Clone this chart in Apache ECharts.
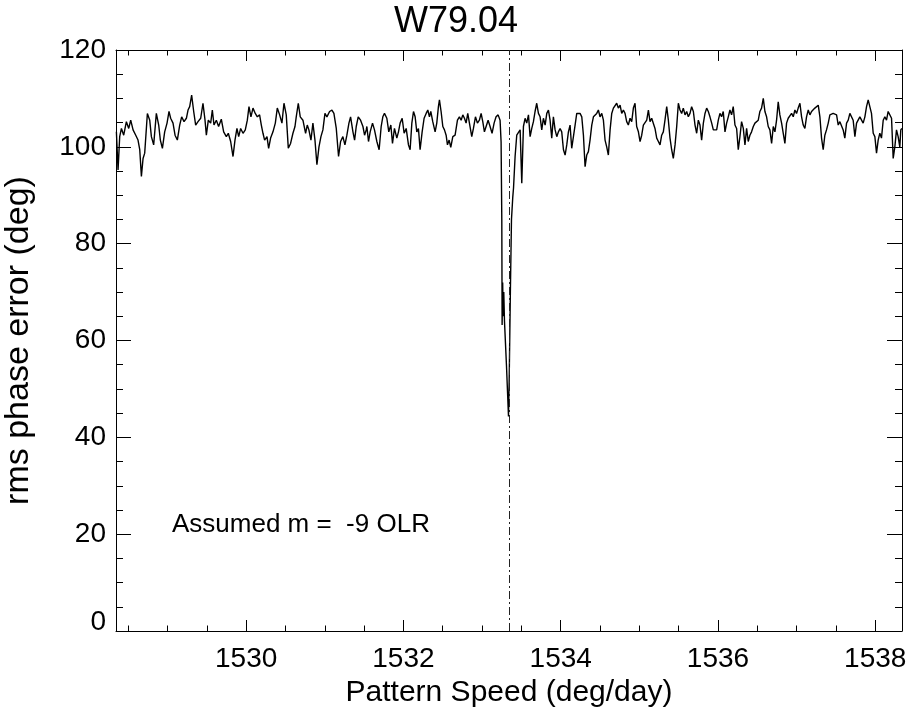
<!DOCTYPE html>
<html>
<head>
<meta charset="utf-8">
<script src="https://cdn.jsdelivr.net/npm/echarts@6/dist/echarts.min.js"></script>
<style>html,body{margin:0;padding:0;background:#fff}#c{width:912px;height:711px}</style>
</head>
<body>
<div id="c"></div>
<script>
var titleText = 'W79.04';
var annotation = 'Assumed m =  -9 OLR';
var xName = 'Pattern Speed (deg/day)';
var yName = 'rms phase error (deg)';
var xMin = 1528.345, xMax = 1538.34;
var xMajorTicks = [1530, 1532, 1534, 1536, 1538];
var xMinorTicks = [1528.5,1529,1529.5,1530,1530.5,1531,1531.5,1532,1532.5,1533,1533.5,1534,1534.5,1535,1535.5,1536,1536.5,1537,1537.5,1538];
var yTicks = [0, 20, 40, 60, 80, 100, 120];
var dipSpeed = 1533.335;

var speed = [
1528.350,1528.371,1528.392,1528.414,1528.443,1528.477,1528.507,1528.532,1528.562,1528.596,
1528.625,1528.647,1528.668,1528.689,1528.710,1528.744,1528.774,1528.795,1528.824,1528.858,
1528.888,1528.909,1528.935,1528.964,1528.994,1529.019,1529.040,1529.070,1529.096,1529.125,
1529.155,1529.180,1529.210,1529.240,1529.261,1529.282,1529.307,1529.333,1529.358,1529.388,
1529.422,1529.451,1529.477,1529.494,1529.519,1529.549,1529.570,1529.591,1529.621,1529.650,
1529.684,1529.714,1529.748,1529.773,1529.803,1529.833,1529.858,1529.883,1529.905,1529.930,
1529.960,1529.989,1530.015,1530.036,1530.061,1530.087,1530.116,1530.142,1530.171,1530.193,
1530.214,1530.235,1530.265,1530.286,1530.311,1530.341,1530.371,1530.396,1530.426,1530.455,
1530.481,1530.510,1530.536,1530.565,1530.595,1530.621,1530.637,1530.663,1530.688,1530.722,
1530.756,1530.777,1530.798,1530.824,1530.849,1530.875,1530.900,1530.926,1530.951,1530.976,
1531.002,1531.027,1531.061,1531.091,1531.116,1531.146,1531.175,1531.201,1531.230,1531.256,
1531.281,1531.307,1531.328,1531.358,1531.379,1531.400,1531.425,1531.455,1531.485,1531.506,
1531.527,
1531.535,1531.556,1531.577,1531.607,1531.632,1531.662,1531.691,1531.717,1531.738,1531.759,
1531.789,1531.814,1531.840,1531.861,1531.886,1531.916,1531.937,1531.958,1531.984,1532.009,
1532.035,1532.064,1532.085,1532.107,1532.128,1532.149,1532.170,1532.191,1532.212,1532.238,
1532.263,1532.289,1532.310,1532.331,1532.348,1532.373,1532.403,1532.424,1532.445,1532.458,
1532.479,1532.501,1532.522,1532.543,1532.560,1532.581,1532.602,1532.628,1532.657,1532.687,
1532.712,1532.734,1532.755,1532.776,1532.797,1532.818,1532.839,1532.869,1532.890,1532.916,
1532.941,1532.966,1532.988,1533.009,1533.030,1533.051,1533.077,1533.102,1533.127,1533.153,
1533.178,1533.204,1533.229,
1533.242,1533.251,1533.255,1533.262,1533.268,1533.276,1533.285,1533.310,1533.336,1533.345,
1533.360,1533.374,1533.390,1533.400,1533.420,1533.441,
1533.462,1533.484,1533.505,1533.526,1533.547,1533.568,1533.590,1533.611,1533.632,1533.653,
1533.674,1533.695,1533.717,
1533.738,1533.759,1533.780,1533.802,1533.823,1533.844,1533.865,1533.886,1533.907,1533.929,
1533.950,1533.971,1533.992,1534.013,1534.035,1534.056,1534.077,1534.098,1534.119,1534.140,
1534.162,1534.183,1534.204,1534.225,1534.246,1534.268,1534.289,1534.310,1534.331,1534.352,
1534.373,1534.395,1534.416,1534.437,1534.458,1534.479,1534.500,1534.522,1534.543,1534.564,
1534.585,1534.606,1534.628,1534.649,1534.670,1534.691,1534.712,1534.733,1534.755,1534.776,
1534.797,1534.818,1534.839,1534.860,1534.882,1534.903,1534.924,1534.945,1534.966,1534.988,
1535.009,1535.030,1535.051,1535.072,1535.094,1535.115,1535.136,1535.157,1535.178,1535.199,
1535.221,1535.242,1535.263,1535.284,1535.305,1535.326,1535.348,1535.369,1535.390,1535.411,
1535.432,1535.454,1535.475,1535.496,1535.517,1535.538,1535.559,1535.581,1535.602,1535.623,
1535.644,1535.665,1535.687,1535.708,1535.729,1535.750,1535.771,1535.792,1535.814,1535.835,
1535.856,1535.877,1535.898,1535.920,1535.941,1535.962,1535.983,1536.004,1536.025,
1536.046,1536.067,1536.089,1536.110,1536.131,1536.152,1536.173,1536.194,1536.216,1536.237,
1536.258,1536.279,1536.300,1536.322,1536.343,1536.364,1536.385,1536.406,1536.427,1536.449,
1536.470,1536.491,1536.512,1536.533,1536.554,1536.576,1536.597,1536.618,1536.639,1536.660,
1536.682,1536.703,1536.724,1536.745,1536.766,1536.787,1536.809,1536.830,1536.851,1536.872,
1536.893,1536.915,1536.936,1536.957,1536.978,1536.999,1537.020,1537.042,1537.063,1537.084,
1537.105,1537.126,1537.148,1537.169,1537.190,1537.211,1537.232,1537.253,1537.275,1537.296,
1537.317,1537.338,1537.359,1537.380,1537.402,1537.423,1537.444,1537.465,1537.486,1537.508,
1537.529,1537.550,1537.571,1537.592,1537.613,1537.635,1537.656,1537.677,1537.698,1537.719,
1537.741,1537.762,1537.783,1537.804,1537.825,1537.846,1537.868,1537.889,1537.910,1537.931,
1537.952,1537.974,1537.995,1538.016,1538.037,1538.058,1538.079,1538.101,1538.122,1538.143,
1538.164,1538.185,1538.207,1538.228,1538.249,1538.270,1538.291,1538.312,1538.325,1538.338
];

var phaseError = [
103.1,95.2,102.1,103.8,102.4,105.2,103.8,105.5,103.5,102.4,
101.4,99.4,93.9,97.6,98.7,106.9,105.5,102.1,100.4,106.9,
104.5,101.4,99.7,103.1,104.9,107.3,105.9,104.9,102.4,101.4,
104.5,106.2,105.2,105.9,107.6,108.3,110.7,107.3,104.5,105.2,
105.9,109.0,105.5,102.4,105.5,104.9,107.6,104.5,105.5,104.2,
105.7,103.1,102.1,102.8,101.1,98.0,101.4,103.8,102.1,103.8,
102.8,103.5,105.5,108.3,106.2,108.0,106.9,106.2,106.6,104.5,
102.8,101.4,102.1,99.7,101.8,103.1,104.9,108.0,106.6,104.9,
109.0,106.6,99.7,100.7,102.8,104.2,106.2,109.0,106.2,105.5,
102.8,104.5,103.5,101.4,104.9,101.4,96.3,100.0,102.1,103.5,
106.9,106.2,107.3,107.6,106.9,103.8,98.0,101.1,102.1,100.4,
102.4,104.9,106.2,103.1,101.4,104.2,106.2,105.5,104.2,102.4,
103.5,
104.2,101.1,103.1,104.9,103.5,101.1,99.4,104.2,106.2,106.9,
105.9,103.1,104.5,100.7,103.8,101.8,103.1,104.9,105.9,102.8,
103.8,100.4,99.4,104.9,107.3,106.2,103.1,103.8,99.4,103.1,
105.9,106.9,107.6,106.2,107.3,105.2,103.1,104.9,108.3,109.7,
107.3,104.2,103.5,102.4,100.4,101.4,99.9,102.1,102.4,105.5,
106.2,105.5,106.6,105.9,104.9,106.9,106.6,102.1,103.8,106.2,
104.9,105.5,106.9,105.2,103.1,103.5,105.5,104.2,102.8,104.9,
106.2,106.6,105.5,
101.0,84.9,63.2,72.0,65.0,70.0,64.0,55.0,44.3,52.0,
70.0,85.0,89.5,91.5,98.0,102.4,
102.1,103.5,92.5,104.2,105.9,104.9,106.6,102.1,103.8,105.2,
107.3,109.0,106.9,
106.2,103.5,105.9,104.5,106.9,107.6,105.5,101.8,106.2,103.5,
102.1,103.1,103.8,103.1,99.4,98.3,100.4,103.1,104.5,99.7,
99.4,104.5,106.9,106.6,106.9,106.2,102.4,95.9,98.3,99.0,
101.4,104.5,106.2,105.9,106.9,107.6,106.2,106.9,105.5,101.4,
100.0,98.3,103.5,106.9,108.0,108.3,109.0,108.0,108.6,106.9,
107.6,106.9,105.2,104.5,105.9,105.2,108.0,109.0,104.2,103.1,
101.1,102.4,104.5,104.9,105.5,107.6,105.2,105.9,105.5,103.8,
101.8,101.1,100.4,102.4,103.1,105.5,108.3,105.5,101.8,99.4,
97.6,100.4,104.2,109.0,107.6,106.9,108.0,106.6,107.3,106.2,
106.9,108.3,107.3,104.5,102.8,105.5,104.5,101.4,104.9,106.9,
108.0,107.3,106.2,104.9,103.5,103.8,103.5,105.5,106.9,
106.2,107.3,103.1,104.9,106.2,107.6,106.6,108.3,104.5,103.8,
99.4,102.1,105.2,103.8,100.4,103.8,101.1,102.4,103.1,104.2,
104.9,104.5,105.5,107.3,108.0,110.0,107.3,106.2,104.2,103.5,
100.7,104.2,103.1,105.5,109.3,106.6,104.9,102.8,100.7,104.9,
105.9,105.5,106.9,106.2,107.6,106.9,108.0,109.0,106.2,104.5,
103.8,106.2,107.6,106.6,107.3,106.9,108.0,108.3,108.6,106.2,
101.8,99.4,102.4,103.5,104.9,106.6,106.2,106.9,107.3,106.6,
104.5,105.2,105.5,103.5,101.8,104.9,105.5,106.9,106.6,105.5,
102.1,104.9,104.5,106.2,106.6,104.9,106.2,108.3,109.7,110.0,
106.9,102.8,102.1,98.7,101.4,102.8,101.8,105.5,106.2,105.5,
107.3,107.6,105.9,97.6,100.0,103.5,102.1,100.0,103.5,103.8
];

var FONT = '"Liberation Sans", Arial, Helvetica, sans-serif';
var chart = echarts.init(document.getElementById('c'), null, {renderer: 'canvas'});
var lineCol = '#000';
var points = speed.map(function (s, i) { return [s, phaseError[i]]; });

function xAx(pos, ticks, len, showLine, showLabel, name) {
  return {
    type: 'value', position: pos, min: xMin, max: xMax,
    axisLine: {show: showLine, onZero: false, lineStyle: {color: lineCol, width: 1}},
    axisTick: {show: true, inside: true, length: len, customValues: ticks, lineStyle: {color: lineCol, width: 1}},
    axisLabel: {show: showLabel, customValues: ticks, fontSize: 28, color: '#000', fontFamily: FONT, margin: 14,
      formatter: function (v) { return String(Math.round(v)); }},
    splitLine: {show: false},
    name: name || '', nameLocation: 'middle', nameGap: 44,
    nameTextStyle: {fontSize: 30, color: '#000', fontFamily: FONT}
  };
}
function yAx(pos, showLabel, name) {
  return {
    type: 'value', position: pos, min: 0, max: 120, interval: 20,
    axisLine: {show: true, onZero: false, lineStyle: {color: lineCol, width: 1}},
    axisTick: {show: true, inside: true, length: 15, lineStyle: {color: lineCol, width: 1}},
    minorTick: {show: true, splitNumber: 4, length: 7, lineStyle: {color: lineCol, width: 1}},
    axisLabel: {show: showLabel, fontSize: 28, color: '#000', fontFamily: FONT, margin: 10,
      formatter: function (v) { return v === 0 ? '{low|0}' : String(v); },
      rich: {low: {fontSize: 28, color: '#000', fontFamily: FONT, padding: [0, 0, 18, 0]}}},
    splitLine: {show: false},
    name: name || '', nameLocation: 'middle', nameGap: 80, nameRotate: 90,
    nameTextStyle: {fontSize: 34, color: '#000', fontFamily: FONT}
  };
}

chart.setOption({
  animation: false,
  backgroundColor: '#fff',
  grid: {left: 116, top: 50, right: 10, bottom: 80, containLabel: false, outerBoundsMode: 'none'},
  xAxis: [
    xAx('bottom', xMajorTicks, 11, true, true, xName),
    xAx('bottom', xMinorTicks, 5.5, false, false),
    xAx('top', xMajorTicks, 11, true, false),
    xAx('top', xMinorTicks, 5.5, false, false)
  ],
  yAxis: [yAx('left', true, yName), yAx('right', false)],
  graphic: [
    {type: 'text', left: 'center', top: 4, style: {text: titleText, font: '36px ' + FONT, fill: '#000'}, z: 100},
    {type: 'text', x: 172, y: 525, style: {text: annotation, font: '26px ' + FONT, fill: '#000', verticalAlign: 'middle'}, z: 100}
  ],
  series: [{
    type: 'line', xAxisIndex: 0, yAxisIndex: 0, data: points,
    showSymbol: false, symbol: 'none', clip: true,
    lineStyle: {color: '#000', width: 1.4},
    markLine: {
      silent: true, symbol: ['none', 'none'], label: {show: false},
      lineStyle: {color: '#222', width: 1, type: [8, 3, 2, 3]},
      data: [{xAxis: dipSpeed}]
    }
  }]
});
</script>
</body>
</html>
